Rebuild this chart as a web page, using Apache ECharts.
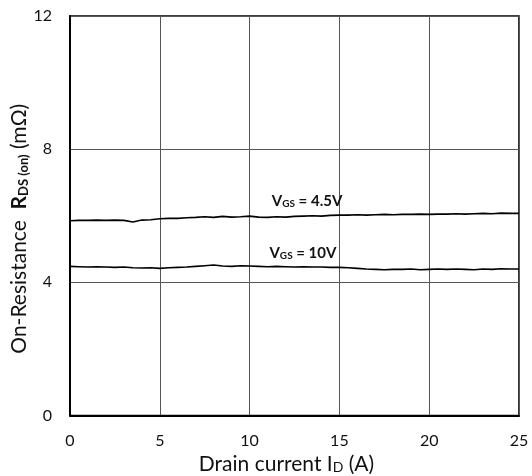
<!DOCTYPE html>
<html>
<head>
<meta charset="utf-8">
<script src="https://cdn.jsdelivr.net/npm/echarts@6/dist/echarts.min.js"></script>
<style>
html,body{margin:0;padding:0;background:#fff;}
#chart{width:532px;height:476px;}
</style>
</head>
<body>
<div id="chart"></div>
<script>
// Drain current (A)
const currents = [0,0.5,1,1.5,2,2.5,3,3.5,4,4.5,5,5.5,6,6.5,7,7.5,8,8.5,9,9.5,10,10.5,11,11.5,12,12.5,13,13.5,14,14.5,15,15.5,16,16.5,17,17.5,18,18.5,19,19.5,20,20.5,21,21.5,22,22.5,23,23.5,24,24.5,25];
// RDS(on) at VGS = 4.5V (mOhm)
const rdsVgs45 = [5.85,5.86,5.86,5.87,5.86,5.87,5.86,5.81,5.87,5.88,5.91,5.92,5.92,5.94,5.95,5.97,5.95,5.98,5.96,5.97,5.99,5.96,5.95,5.97,5.96,5.98,5.99,6.00,5.99,6.01,6.02,6.02,6.03,6.02,6.03,6.04,6.03,6.04,6.04,6.05,6.04,6.05,6.05,6.06,6.05,6.06,6.07,6.06,6.08,6.07,6.07];
// RDS(on) at VGS = 10V (mOhm)
const rdsVgs10 = [4.48,4.47,4.46,4.47,4.46,4.45,4.46,4.44,4.43,4.44,4.42,4.44,4.45,4.46,4.48,4.50,4.52,4.49,4.48,4.50,4.49,4.48,4.47,4.48,4.47,4.46,4.47,4.46,4.46,4.45,4.45,4.44,4.42,4.40,4.39,4.38,4.39,4.39,4.40,4.38,4.39,4.40,4.39,4.40,4.39,4.38,4.40,4.39,4.41,4.40,4.40];
// annotation anchors [current, resistance]
const label45Pos = [13.2, 6.44];
const label10Pos = [12.97, 4.88];
const xTicks = {min:0, max:25, interval:5};
const yTicks = {min:0, max:12, interval:4};

const FONT = 'Lato';
const chart = echarts.init(document.getElementById('chart'), null, {renderer:'canvas'});

function pairs(xs, ys){ return xs.map((x,i)=>[x, ys[i]]); }

const vgsRich = {
  v:{fontFamily:FONT, fontSize:15, fontWeight:'bold', color:'#111'},
  s:{fontFamily:FONT, fontSize:10, fontWeight:'bold', color:'#111', verticalAlign:'bottom', padding:[4,0,0,0]},
};

chart.setOption({
  animation:false,
  backgroundColor:'#fff',
  grid:{left:70, right:13, top:16, bottom:60.5, containLabel:false, outerBoundsMode:'none',
    show:true, borderColor:'#000', borderWidth:1.6, backgroundColor:'transparent'},
  xAxis:{
    type:'value', min:xTicks.min, max:xTicks.max, interval:xTicks.interval,
    axisLine:{show:true, onZero:false, lineStyle:{color:'#000', width:2}},
    axisTick:{show:false},
    splitLine:{show:true, lineStyle:{color:'#555', width:1}},
    axisLabel:{margin:17, fontFamily:FONT, fontSize:16, color:'#111'},
    name:'Drain current I{sm|D} (A)',
    nameLocation:'middle', nameGap:35,
    nameTextStyle:{fontFamily:FONT, fontSize:21, color:'#111', padding:[0,16,0,0],
      rich:{sm:{fontFamily:FONT, fontSize:14, color:'#111', verticalAlign:'bottom', padding:[5,0,0,0]}}}
  },
  yAxis:{
    type:'value', min:yTicks.min, max:yTicks.max, interval:yTicks.interval,
    axisLine:{show:true, onZero:false, lineStyle:{color:'#000', width:2}},
    axisTick:{show:false},
    splitLine:{show:true, lineStyle:{color:'#555', width:1}},
    axisLabel:{margin:18, fontFamily:FONT, fontSize:16, color:'#111'},
    name:'On-Resistance  {b|R}{sub|DS (on)} (mΩ)',
    nameLocation:'middle', nameGap:40, nameRotate:90, nameMoveOverlap:false,
    nameTextStyle:{fontFamily:FONT, fontSize:21, color:'#111', padding:[0,26,0,0],
      rich:{
        b:{fontFamily:FONT, fontSize:21, fontWeight:'bold', color:'#111'},
        sub:{fontFamily:FONT, fontSize:13, fontWeight:'bold', color:'#111', verticalAlign:'bottom', padding:[7,0,0,0]}
      }}
  },
  series:[
    {
      name:'VGS = 4.5V', type:'line', data:pairs(currents, rdsVgs45),
      showSymbol:false, symbol:'none', smooth:false,
      lineStyle:{color:'#000', width:1.6}, z:3,
      markPoint:{
        symbol:'circle', symbolSize:0, silent:true,
        label:{show:true, position:'inside', formatter:'{v|V}{s|GS}{v| = 4.5V}', rich:vgsRich},
        data:[{coord:label45Pos}]
      }
    },
    {
      name:'VGS = 10V', type:'line', data:pairs(currents, rdsVgs10),
      showSymbol:false, symbol:'none', smooth:false,
      lineStyle:{color:'#000', width:1.6}, z:3,
      markPoint:{
        symbol:'circle', symbolSize:0, silent:true,
        label:{show:true, position:'inside', formatter:'{v|V}{s|GS}{v| = 10V}', rich:vgsRich},
        data:[{coord:label10Pos}]
      }
    }
  ]
});
</script>
</body>
</html>
